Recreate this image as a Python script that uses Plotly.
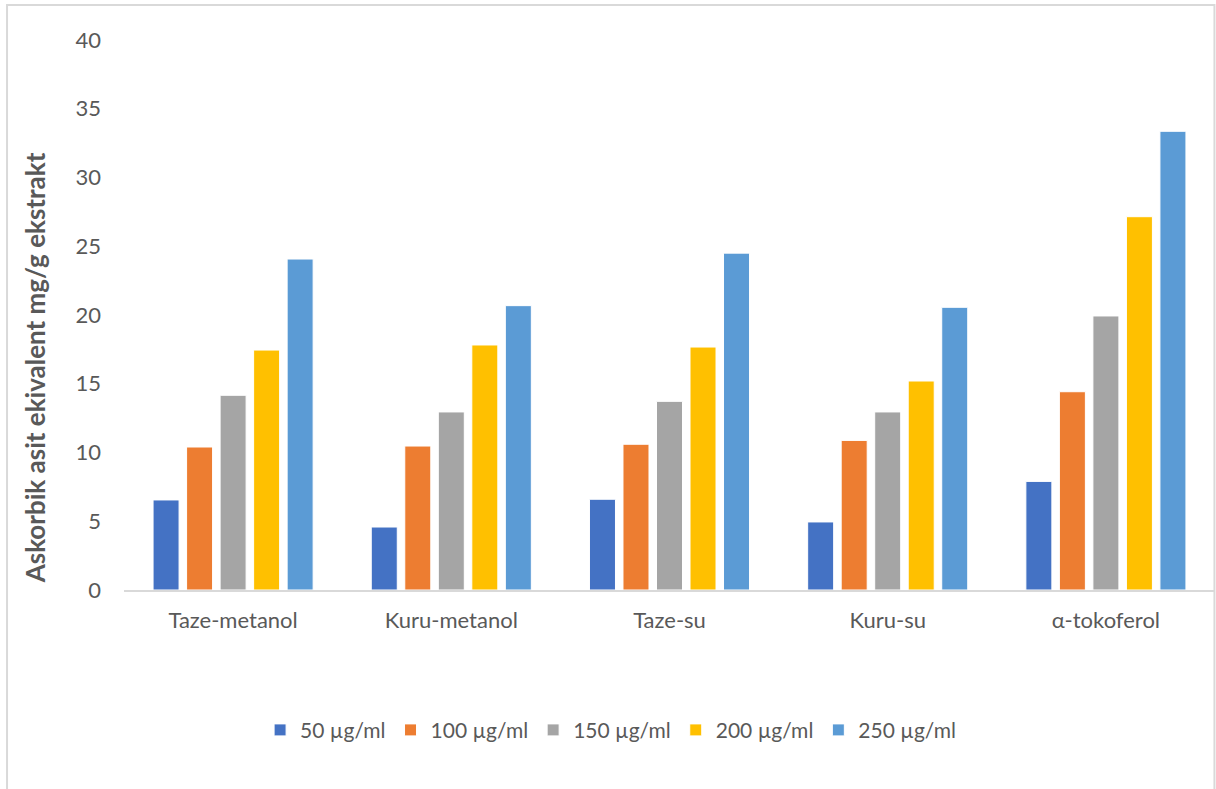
import plotly.graph_objects as go

categories = ["Taze-metanol", "Kuru-metanol", "Taze-su", "Kuru-su", "α-tokoferol"]
series_names = ["50 µg/ml", "100 µg/ml", "150 µg/ml", "200 µg/ml", "250 µg/ml"]
vals_50 = [6.55, 4.58, 6.6, 4.95, 7.9]
vals_100 = [10.4, 10.47, 10.6, 10.88, 14.42]
vals_150 = [14.16, 12.95, 13.72, 12.95, 19.93]
vals_200 = [17.45, 17.82, 17.67, 15.2, 27.15]
vals_250 = [24.07, 20.68, 24.5, 20.56, 33.36]
colors = ["#4472C4", "#ED7D31", "#A5A5A5", "#FFC000", "#5B9BD5"]

y_tick_vals = [0, 5, 10, 15, 20, 25, 30, 35, 40]
y_title = "Askorbik asit ekivalent mg/g ekstrakt"

FONT = "Lato, 'Open Sans', sans-serif"
GREY = "#595959"

fig = go.Figure()
for name, vals, col in zip(series_names,
                           [vals_50, vals_100, vals_150, vals_200, vals_250],
                           colors):
    fig.add_trace(go.Bar(
        x=categories, y=vals, name=name,
        marker=dict(color=col, line=dict(color="white", width=1)),
    ))

fig.update_layout(
    width=1216, height=789,
    margin=dict(l=124, r=1, t=40, b=199),
    paper_bgcolor="white", plot_bgcolor="white",
    barmode="group", bargap=0.232, bargroupgap=0.224,
    font=dict(family=FONT, size=21, color=GREY),
    showlegend=True,
    legend=dict(orientation="h", x=0.446, xanchor="center", y=-0.255, yanchor="middle",
                font=dict(family=FONT, size=21, color=GREY),
                itemwidth=30, tracegroupgap=0, traceorder="normal"),
    xaxis=dict(showgrid=False, showline=True, linecolor="#D9D9D9", linewidth=2,
               ticks="", ticklabelstandoff=10, tickfont=dict(size=22, color=GREY),
               zeroline=False),
    yaxis=dict(range=[0, 40], tickvals=y_tick_vals, showgrid=False, showline=False,
               zeroline=False, ticks="", ticklabelstandoff=22,
               tickfont=dict(size=22, color=GREY)),
    shapes=[dict(type="rect", xref="paper", yref="paper",
                 x0=-0.1072, x1=0.9995, y0=-0.40, y1=1.0636,
                 line=dict(color="#D9D9D9", width=2), fillcolor="rgba(0,0,0,0)",
                 layer="below")],
    annotations=[dict(text="<b>" + y_title + "</b>", xref="paper", yref="paper",
                      x=-0.082, y=0.404, xanchor="center", yanchor="middle",
                      textangle=-90, showarrow=False,
                      font=dict(family=FONT, size=26, color=GREY))],
)

fig.write_html("out.html")
